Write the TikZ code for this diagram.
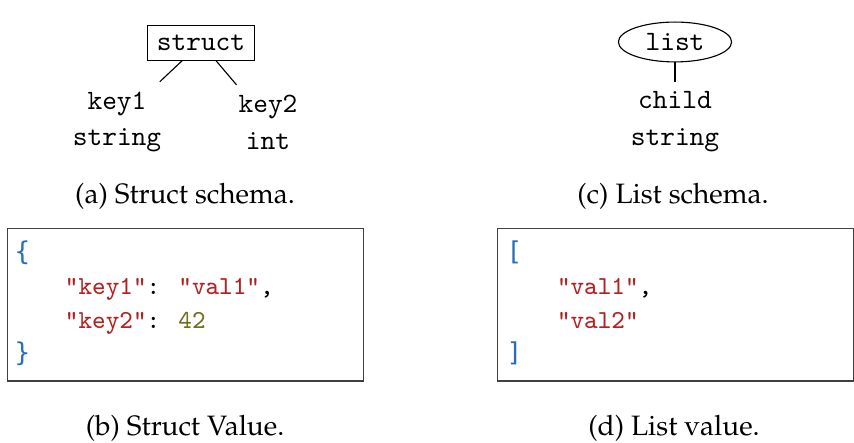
\documentclass[tikz,border=0pt]{standalone}
\usepackage{fontspec}
\usepackage{xcolor}
\usepackage{tikz}
\usetikzlibrary{shapes.geometric}

\newfontfamily\bracefont{DejaVu Sans Mono}
\newcommand{\capfont}{\fontencoding{OT1}\fontfamily{ppl}\selectfont}

\definecolor{jblue}{RGB}{38,110,182}
\definecolor{jred}{RGB}{178,34,34}
\definecolor{jolive}{RGB}{110,112,30}

\begin{document}
\begin{tikzpicture}[
  x=0.01255cm, y=-0.01255cm,
  schema/.style={font=\fontsize{10}{13.2}\selectfont\ttfamily, inner sep=3.33pt},
  field/.style={schema, align=center},
  caption/.style={font=\capfont\fontsize{10}{12}\selectfont},
  valbox/.style={draw=black!75, minimum width=4.455cm, minimum height=1.908cm},
  code/.style={font=\fontsize{9.25}{12.1}\selectfont\ttfamily, align=left, inner sep=0pt, anchor=north west},
]
\useasboundingbox (0,0) rectangle (854,443);

% (a) struct schema
\node[schema, draw] (struct) at (201,43) {struct};
\node[field] (key1) at (117,122) {key1\\string};
\node[field] (key2) at (268,122) {key2\\int};
\draw (struct) -- (key1);
\draw (struct) -- (key2);
\node[caption] (capa) at (185,196) {(a) Struct schema.};

% (c) list schema
\node[schema, draw, ellipse, inner sep=1pt, minimum width=1.42cm, minimum height=0.5cm] (list) at (675,42) {list};
\node[field] (child) at (675,122) {child\\string};
\draw (list) -- (child);
\node[caption] (capc) at (673,196) {(c) List schema.};

% (b) struct value
\node[valbox] (sbox) at (185.5,305) {};
\node[code] (scode) at (14,240) {%
  {\bracefont\color{jblue}\{}\\
  \hspace*{18pt}\textcolor{jred}{"key1"}: \textcolor{jred}{"val1"},\\
  \hspace*{18pt}\textcolor{jred}{"key2"}: \textcolor{jolive}{42}\\
  {\bracefont\color{jblue}\}}};
\node[caption] (capb) at (185,428) {(b) Struct Value.};

% (d) list value
\node[valbox] (lbox) at (675.5,305) {};
\node[code] (lcode) at (506,240) {%
  {\bracefont\color{jblue}[}\\
  \hspace*{18pt}\textcolor{jred}{"val1"},\\
  \hspace*{18pt}\textcolor{jred}{"val2"}\\
  {\bracefont\color{jblue}]}};
\node[caption] (capd) at (674,428) {(d) List value.};

\end{tikzpicture}
\end{document}
